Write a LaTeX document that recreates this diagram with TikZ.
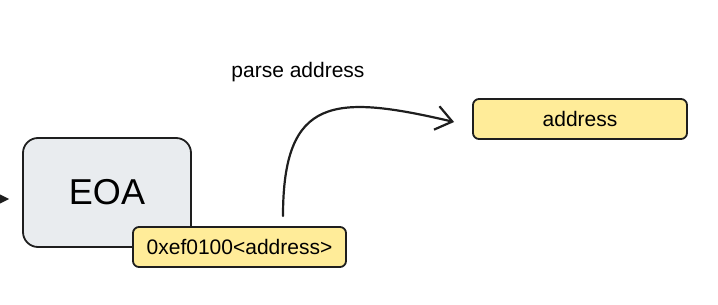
\documentclass[tikz,border=0pt]{standalone}
\usepackage{fontspec}
\setmainfont{Liberation Sans}
\usepackage{tikz}
\usetikzlibrary{arrows.meta,calc,positioning}
\definecolor{ink}{HTML}{1E1E1E}
\definecolor{eoagray}{HTML}{E9ECEF}
\definecolor{addryellow}{HTML}{FFEC99}

\begin{document}
\begin{tikzpicture}[x=1pt, y=-1pt,
    eoabox/.style={draw=ink, line width=1.8pt, rounded corners=15pt, fill=eoagray,
        minimum width=168pt, minimum height=109pt, font=\fontsize{36}{38}\selectfont},
    addrbox/.style={draw=ink, line width=1.8pt, rounded corners=6pt, fill=addryellow,
        minimum height=40pt, inner sep=0pt, font=\fontsize{21}{23}\selectfont},
    ink line/.style={draw=ink, line width=2.2pt, line cap=round}]
    \useasboundingbox (0,0) rectangle (718,305);

    % Nodo EOA
    \node[eoabox] (eoa) at (107,192.5) {EOA};

    % Indirizzo delegato sotto EOA
    \node[addrbox, minimum width=213pt] (ptr) at (239.5,247) {0xef0100<address>};

    % Indirizzo estratto
    \node[addrbox, minimum width=214pt] (addr) at (580,119) {address};

    % Etichetta della freccia
    \node[font=\fontsize{21}{23}\selectfont] (parse) at (298,72) {parse address};

    % Ingresso verso EOA
    \coordinate (in) at (-20,199);
    \draw[ink line, -{Stealth[length=12pt, width=12pt]}, shorten >=13pt] (in) -- (in -| eoa.west);

    % Freccia curva da ptr a addr
    \draw[ink line, -{Straight Barb[length=16pt, width=24pt, line width=2.2pt]}]
        ($(ptr.north)+(43.5,-10)$) .. controls +(0,-120) and +(-120,-28) .. ($(addr.west)+(-18,3)$);
\end{tikzpicture}
\end{document}
